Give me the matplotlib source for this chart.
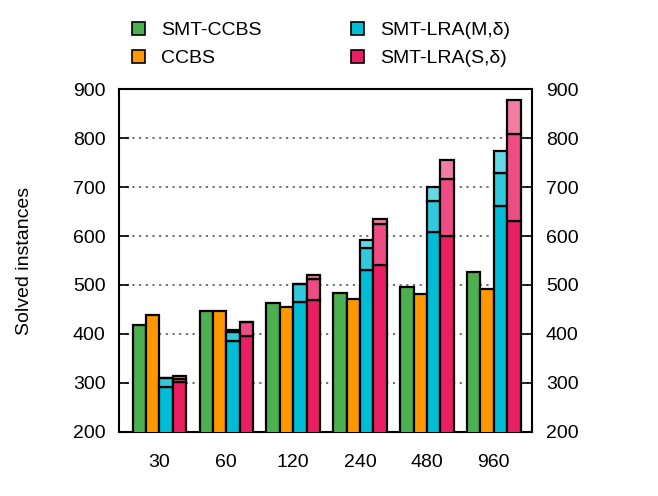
import numpy as np
import matplotlib
matplotlib.use("Agg")
import matplotlib.pyplot as plt
from matplotlib.patches import Patch

plt.rcParams['font.family'] = ['Liberation Sans', 'DejaVu Sans']

# data
groups = ['30', '60', '120', '240', '480', '960']
smt_ccbs = [418, 446, 464, 483, 496, 527]
ccbs = [438, 447, 455, 472, 481, 491]
# cumulative tops of the three stacked parts
lra_m = [[291, 310, 310], [385, 404, 408], [465, 502, 502],
         [530, 575, 592], [608, 671, 700], [662, 730, 775]]
lra_s = [[301, 308, 314], [396, 424, 425], [469, 512, 521],
         [541, 624, 635], [601, 716, 755], [630, 809, 878]]

green = '#4CAF50'
orange = '#FF9800'
cyan = ['#00BCD4', '#33C9DC', '#66D7E5']
pink = ['#E91E63', '#EE4C84', '#F27CA2']

fig = plt.figure(figsize=(6.58, 4.96), dpi=100)
ax = fig.add_axes([0.1813, 0.130, 0.6272, 0.6897])

x = np.arange(len(groups))
w = 0.2
lw = 1.6

ax.bar(x - 1.5 * w, smt_ccbs, w, color=green, edgecolor='black', linewidth=lw, zorder=3)
ax.bar(x - 0.5 * w, ccbs, w, color=orange, edgecolor='black', linewidth=lw, zorder=3)

def stacked(xpos, tops, cols):
    tops = np.array(tops)
    prev = np.zeros(len(xpos))
    for k in range(3):
        ax.bar(xpos, tops[:, k] - prev, w, bottom=prev, color=cols[k],
               edgecolor='black', linewidth=lw, zorder=3)
        prev = tops[:, k]

stacked(x + 0.5 * w, lra_m, cyan)
stacked(x + 1.5 * w, lra_s, pink)

ax.set_xlim(-0.6, 5.57)
ax.set_ylim(200, 900)
ax.set_yticks(range(200, 901, 100))
ax.set_xticks(x)
ax.set_xticklabels(groups)
ax.tick_params(axis='x', length=0, pad=16, labelsize=14)
ax.tick_params(axis='y', direction='in', length=7, width=1.2, pad=10, labelsize=14,
               right=True, labelright=True)
for s in ax.spines.values():
    s.set_linewidth(1.5)

ax.yaxis.grid(True, linestyle=(0, (1.2, 2.5)), color='#666666', linewidth=1.3, zorder=0)
ax.set_axisbelow(True)

fig.text(25 / 658, 1 - 261 / 496, 'Solved instances', rotation=90, fontsize=14,
         ha='center', va='center')

handles = [Patch(facecolor=green, edgecolor='black', linewidth=1.2),
           Patch(facecolor=orange, edgecolor='black', linewidth=1.2),
           Patch(facecolor=cyan[0], edgecolor='black', linewidth=1.2),
           Patch(facecolor=pink[0], edgecolor='black', linewidth=1.2)]
labels = ['SMT-CCBS', 'CCBS', 'SMT-LRA(M,δ)', 'SMT-LRA(S,δ)']
fig.legend(handles, labels, loc='upper left', bbox_to_anchor=(132 / 658, 1 - 22 / 496),
           ncol=2, frameon=False, fontsize=14, handlelength=0.65, handleheight=0.65,
           handletextpad=0.85, columnspacing=4.6, labelspacing=0.55,
           borderpad=0, borderaxespad=0)

fig.savefig('out.png', dpi=100)
